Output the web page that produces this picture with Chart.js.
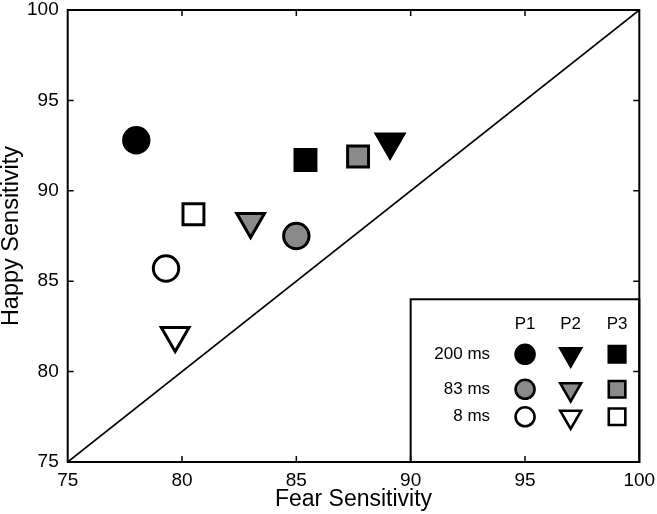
<!DOCTYPE html>
<html>
<head>
<meta charset="utf-8">
<script src="https://cdn.jsdelivr.net/npm/chart.js@4"></script>
<style>
  html, body { margin: 0; padding: 0; background: #fff; }
  #wrap { width: 657px; height: 514px; }
</style>
</head>
<body>
<div id="wrap"><canvas id="myChart" width="657" height="514"></canvas></div>
<script>
// values
const participants = ['P1', 'P2', 'P3'];
const durations = ['200 ms', '83 ms', '8 ms'];
const fearP1 = [78.0, 85.0, 79.3];
const happyP1 = [92.8, 87.5, 85.7];
const fearP2 = [89.1, 83.0, 79.7];
const happyP2 = [92.7, 88.3, 82.0];
const fearP3 = [85.4, 87.7, 80.5];
const happyP3 = [91.7, 91.9, 88.7];
const axisTicks = [75, 80, 85, 90, 95, 100];
const diagonal = [75, 100];

const fills = ['#000000', '#8a8a8a', '#ffffff'];
const shapes = [
  { pointStyle: 'circle', radius: 12.7, rotation: 0, legendRadius: 9.5 },
  { pointStyle: 'triangle', radius: 16, rotation: 180, legendRadius: 12 },
  { pointStyle: 'rect', radius: 14.8, rotation: 0, legendRadius: 11.7 }
];
const fearAll = [fearP1, fearP2, fearP3];
const happyAll = [happyP1, happyP2, happyP3];
const FONT = '"Liberation Sans", Arial, Helvetica, sans-serif';

let datasets = [{
  type: 'line',
  label: 'diagonal',
  data: diagonal.map(v => ({ x: v, y: v })),
  borderColor: '#000',
  borderWidth: 1.6,
  pointRadius: 0,
  fill: false,
  order: 2
}];
participants.forEach((p, i) => {
  datasets.push({
    type: 'scatter',
    label: p,
    data: fearAll[i].map((f, j) => ({ x: f, y: happyAll[i][j] })),
    pointStyle: shapes[i].pointStyle,
    pointRadius: shapes[i].radius,
    pointHoverRadius: shapes[i].radius,
    rotation: shapes[i].rotation,
    backgroundColor: fills,
    borderColor: '#000',
    borderWidth: 3,
    order: 1
  });
});

// frame, inward ticks and the P1/P2/P3 legend table
let framePlugin = {
  id: 'frame',
  afterDatasetsDraw: function (chart) {
    let ctx = chart.ctx;
    let a = chart.chartArea;
    let xs = chart.scales.x, ys = chart.scales.y;
    ctx.save();

    // legend box
    let L = xs.getPixelForValue(90), T = ys.getPixelForValue(84);
    ctx.fillStyle = '#fff';
    ctx.fillRect(L, T, a.right - L, a.bottom - T);
    ctx.strokeStyle = '#000';
    ctx.lineWidth = 2;
    ctx.strokeRect(L, T, a.right - L, a.bottom - T);

    let cols = [L + 114.4, L + 160, L + 206.4];
    let rows = [T + 55, T + 90, T + 117.5];
    ctx.font = '17px ' + FONT;
    ctx.fillStyle = '#000';
    ctx.textBaseline = 'middle';
    ctx.textAlign = 'center';
    participants.forEach((p, i) => ctx.fillText(p, cols[i], T + 25));
    ctx.textAlign = 'right';
    durations.forEach((d, j) => ctx.fillText(d, L + 79.4, rows[j]));
    participants.forEach((p, i) => {
      durations.forEach((d, j) => {
        ctx.fillStyle = fills[j];
        ctx.strokeStyle = '#000';
        ctx.lineWidth = 2.6;
        Chart.helpers.drawPoint(ctx, {
          pointStyle: shapes[i].pointStyle,
          radius: shapes[i].legendRadius,
          rotation: shapes[i].rotation,
          borderWidth: 2.6
        }, cols[i], rows[j]);
      });
    });

    // outer frame
    ctx.strokeStyle = '#000';
    ctx.lineWidth = 2;
    ctx.strokeRect(a.left, a.top, a.right - a.left, a.bottom - a.top);

    // inward ticks on all four sides
    ctx.lineWidth = 1.5;
    ctx.beginPath();
    xs.ticks.forEach(t => {
      if (t.value === 75 || t.value === 100) return;
      let px = xs.getPixelForValue(t.value);
      ctx.moveTo(px, a.bottom); ctx.lineTo(px, a.bottom - 6);
      ctx.moveTo(px, a.top); ctx.lineTo(px, a.top + 6);
    });
    ys.ticks.forEach(t => {
      if (t.value === 75 || t.value === 100) return;
      let py = ys.getPixelForValue(t.value);
      ctx.moveTo(a.left, py); ctx.lineTo(a.left + 6, py);
      ctx.moveTo(a.right, py); ctx.lineTo(a.right - 6, py);
    });
    ctx.stroke();
    ctx.restore();
  }
};

let ctx = document.getElementById('myChart').getContext('2d');
let myChart = new Chart(ctx, {
  type: 'scatter',
  data: { datasets: datasets },
  plugins: [framePlugin],
  options: {
    responsive: false,
    animation: false,
    layout: { autoPadding: false, padding: { top: 10, right: 17.7, left: 0, bottom: 0 } },
    plugins: {
      legend: { display: false },
      tooltip: { enabled: false }
    },
    scales: {
      x: {
        type: 'linear',
        min: 75,
        max: 100,
        afterBuildTicks: s => { s.ticks = axisTicks.map(v => ({ value: v })); },
        afterFit: s => {
          s.height = 52;
          s.paddingLeft = 0; s.paddingRight = 0;
        },
        grid: { display: false, drawTicks: false },
        border: { display: false },
        ticks: {
          autoSkip: false,
          maxRotation: 0,
          padding: 7,
          color: '#000',
          font: { family: FONT, size: 19 }
        },
        title: {
          display: true,
          text: 'Fear Sensitivity',
          color: '#000',
          padding: { top: 0, bottom: 3 },
          font: { family: FONT, size: 23, lineHeight: 1 }
        }
      },
      y: {
        type: 'linear',
        min: 75,
        max: 100,
        afterBuildTicks: s => { s.ticks = axisTicks.map(v => ({ value: v })); },
        afterFit: s => {
          s.width = 67.7;
          s.paddingTop = 0; s.paddingBottom = 0;
        },
        grid: { display: false, drawTicks: false },
        border: { display: false },
        ticks: {
          autoSkip: false,
          padding: 9,
          color: '#000',
          font: { family: FONT, size: 19 }
        },
        title: {
          display: true,
          text: 'Happy Sensitivity',
          color: '#000',
          padding: { top: 0, bottom: 0 },
          font: { family: FONT, size: 23.5, lineHeight: 1 }
        }
      }
    }
  }
});
</script>
</body>
</html>
